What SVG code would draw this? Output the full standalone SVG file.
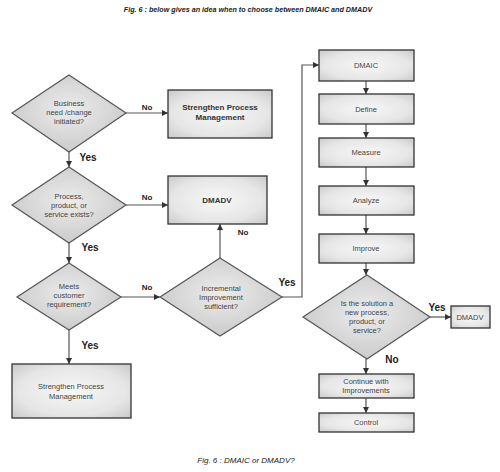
<svg xmlns="http://www.w3.org/2000/svg" width="500" height="472" viewBox="0 0 500 472">
<style>
.box{stroke:#333;stroke-width:1.3;fill:url(#gBox)}
.dia{stroke:#555;stroke-width:1.2;fill:url(#gDia)}
.t{font-family:"Liberation Sans",Arial,sans-serif;font-size:7.5px;fill:#444;text-anchor:middle}
.tb{font-family:"Liberation Sans",Arial,sans-serif;font-size:8px;font-weight:bold;fill:#333;text-anchor:middle}
.lab{font-family:"Liberation Sans",Arial,sans-serif;font-size:8px;font-weight:bold;fill:#222;text-anchor:middle}
.yes{font-family:"Liberation Sans",Arial,sans-serif;font-size:10px;font-weight:bold;fill:#222;text-anchor:middle}
.cap{font-family:"Liberation Sans",Arial,sans-serif;font-size:8px;font-style:italic;fill:#222;text-anchor:middle}
.title{font-size:7.2px;font-weight:bold}
.c{stroke:#555;stroke-width:1.2;fill:none;marker-end:url(#ah)}
</style>
<defs>
<radialGradient id="gBox" cx="0.5" cy="0.5" r="0.75">
<stop offset="0" stop-color="#f7f7f7"/>
<stop offset="0.6" stop-color="#e6e6e6"/>
<stop offset="1" stop-color="#c4c4c4"/>
</radialGradient>
<radialGradient id="gDia" cx="0.5" cy="0.45" r="0.6">
<stop offset="0" stop-color="#ececec"/>
<stop offset="1" stop-color="#c8c8c8"/>
</radialGradient>
<marker id="ah" viewBox="0 0 10 10" refX="10" refY="5" markerWidth="6" markerHeight="6" orient="auto" markerUnits="userSpaceOnUse">
<path d="M0,0 L10,5 L0,10 z" fill="#333"/>
</marker>
</defs>
<rect width="500" height="472" fill="#fff"/>
<text class="cap title" x="248" y="12">Fig. 6 : below gives an idea when to choose between DMAIC and DMADV</text>
<text class="cap" x="246" y="463">Fig. 6 : DMAIC or DMADV?</text>

<g id="connectors">
<line class="c" x1="126" y1="113" x2="168" y2="113"/>
<line class="c" x1="69" y1="152" x2="69" y2="167"/>
<line class="c" x1="126" y1="205" x2="168" y2="205"/>
<line class="c" x1="69" y1="243" x2="69" y2="263"/>
<line class="c" x1="121" y1="297" x2="160" y2="297"/>
<line class="c" x1="69" y1="330" x2="69" y2="364"/>
<line class="c" x1="220" y1="258" x2="220" y2="224"/>
<polyline class="c" points="282,297 302,297 302,65 319,65"/>
<line class="c" x1="366" y1="81" x2="366" y2="94"/>
<line class="c" x1="366" y1="124" x2="366" y2="138"/>
<line class="c" x1="366" y1="167" x2="366" y2="186"/>
<line class="c" x1="366" y1="215" x2="366" y2="234"/>
<line class="c" x1="366" y1="263" x2="366" y2="275"/>
<line class="c" x1="430" y1="317" x2="451" y2="317"/>
<line class="c" x1="366" y1="359" x2="366" y2="374"/>
<line class="c" x1="366" y1="398" x2="366" y2="413"/>
<text class="lab" x="147" y="110">No</text>
<text class="yes" x="88" y="161">Yes</text>
<text class="lab" x="147" y="200">No</text>
<text class="yes" x="90" y="251">Yes</text>
<text class="lab" x="147" y="290">No</text>
<text class="yes" x="90" y="349">Yes</text>
<text class="lab" x="243" y="235">No</text>
<text class="yes" x="287" y="286">Yes</text>
<text class="yes" x="437" y="311">Yes</text>
<text class="yes" x="392" y="363">No</text>
</g>

<g id="d1">
<polygon class="dia" points="69,75 126,113 69,152 12,113"/>
<text class="t" x="69" y="106">Business</text>
<text class="t" x="69" y="115">need /change</text>
<text class="t" x="69" y="124">initiated?</text>
</g>
<g id="spm1">
<rect class="box" x="168" y="90" width="104" height="48"/>
<text class="tb" x="220" y="110">Strengthen Process</text>
<text class="tb" x="220" y="120">Management</text>
</g>
<g id="d2">
<polygon class="dia" points="69,167 126,205 69,243 12,205"/>
<text class="t" x="69" y="199">Process,</text>
<text class="t" x="69" y="208">product, or</text>
<text class="t" x="69" y="217">service exists?</text>
</g>
<g id="dmadv1">
<rect class="box" x="168" y="176" width="99" height="48"/>
<text class="tb" x="217" y="203">DMADV</text>
</g>
<g id="d3">
<polygon class="dia" points="69,263 121,297 69,330 17,297"/>
<text class="t" x="69" y="289">Meets</text>
<text class="t" x="69" y="298">customer</text>
<text class="t" x="69" y="307">requirement?</text>
</g>
<g id="d4">
<polygon class="dia" points="220,258 282,297 220,336 160,297"/>
<text class="t" x="221" y="291">Incremental</text>
<text class="t" x="221" y="300">Improvement</text>
<text class="t" x="221" y="309">sufficient?</text>
</g>
<g id="spm2">
<rect class="box" x="12" y="364" width="119" height="54"/>
<text class="t" x="71" y="389">Strengthen Process</text>
<text class="t" x="71" y="399">Management</text>
</g>
<g id="dmaic">
<rect class="box" x="319" y="50" width="95" height="31"/>
<text class="t" x="366" y="68">DMAIC</text>
</g>
<g id="define">
<rect class="box" x="319" y="94" width="95" height="30"/>
<text class="t" x="366" y="112">Define</text>
</g>
<g id="measure">
<rect class="box" x="319" y="138" width="95" height="29"/>
<text class="t" x="366" y="155">Measure</text>
</g>
<g id="analyze">
<rect class="box" x="319" y="186" width="95" height="29"/>
<text class="t" x="366" y="203">Analyze</text>
</g>
<g id="improve">
<rect class="box" x="319" y="234" width="95" height="29"/>
<text class="t" x="366" y="251">Improve</text>
</g>
<g id="d5">
<polygon class="dia" points="367,275 430,317 367,359 303,317"/>
<text class="t" x="367" y="306">Is the solution a</text>
<text class="t" x="367" y="315">new process,</text>
<text class="t" x="367" y="324">product, or</text>
<text class="t" x="367" y="333">service?</text>
</g>
<g id="dmadv2">
<rect class="box" x="451" y="306" width="39" height="22"/>
<text class="t" x="470" y="320">DMADV</text>
</g>
<g id="continue">
<rect class="box" x="319" y="374" width="95" height="24"/>
<text class="t" x="366" y="384">Continue with</text>
<text class="t" x="366" y="393">Improvements</text>
</g>
<g id="control">
<rect class="box" x="319" y="413" width="95" height="19"/>
<text class="t" x="366" y="425">Control</text>
</g>
</svg>
